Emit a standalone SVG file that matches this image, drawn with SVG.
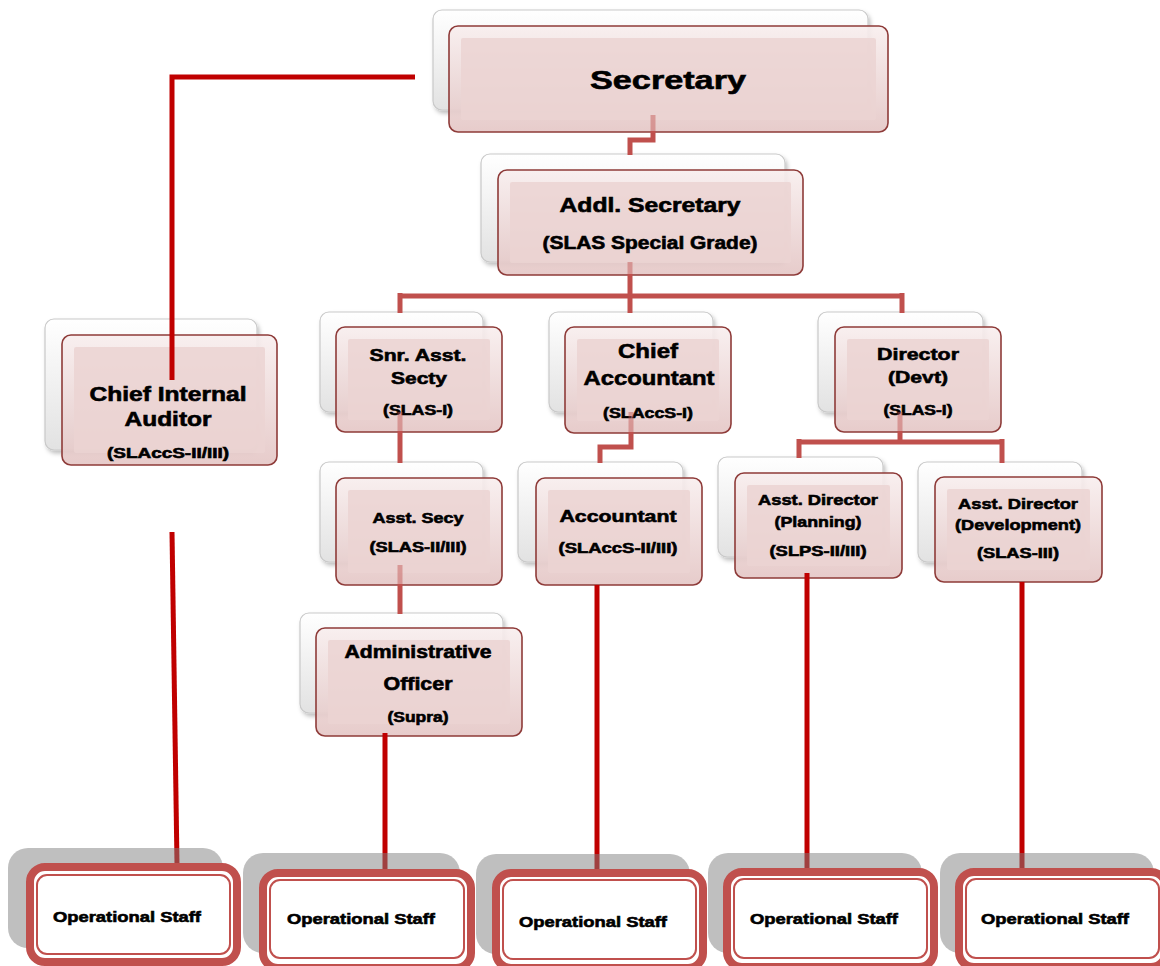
<svg xmlns="http://www.w3.org/2000/svg" width="1160" height="966" viewBox="0 0 1160 966">
<style>
.back{fill:url(#backGrad);stroke:#c9c9c9;stroke-width:1.2;filter:url(#sh)}
.front{fill:url(#frontGrad);fill-opacity:0.9;stroke:#8e3b39;stroke-width:1.6}
.frontIn{fill:#ebd3d2;fill-opacity:0.85;stroke:none}
.t{font-family:"Liberation Sans",Arial,sans-serif;font-weight:bold;fill:#000;text-anchor:middle;stroke:#000;stroke-width:0.6}
.mute{fill:none;stroke:#c0504d;stroke-width:5}
.faint{fill:none;stroke:#c0504d;stroke-width:5;stroke-opacity:0.45}
.red{fill:none;stroke:#c00000;stroke-width:5}
.opsh{fill:#808080;fill-opacity:0.5}
.opOut{fill:#fff;stroke:#c0504d;stroke-width:8}
.opIn{fill:none;stroke:#c0504d;stroke-width:2}
</style>
<defs>
<linearGradient id="backGrad" x1="0" y1="0" x2="0" y2="1">
<stop offset="0" stop-color="#ffffff"/>
<stop offset="1" stop-color="#e2e2e2"/>
</linearGradient>
<linearGradient id="frontGrad" x1="0" y1="0" x2="0" y2="1">
<stop offset="0" stop-color="#f8eeee"/>
<stop offset="1" stop-color="#e4c6c5"/>
</linearGradient>
<filter id="sh" x="-10%" y="-10%" width="125%" height="130%">
<feDropShadow dx="2" dy="3" stdDeviation="2" flood-color="#000" flood-opacity="0.25"/>
</filter>
</defs>

<g id="node-secretary">
<rect class="back" x="433" y="10" width="435" height="100" rx="9"/>
<rect class="front" x="449" y="26" width="439" height="106" rx="9"/>
<rect class="frontIn" x="461" y="38" width="415" height="82" rx="2"/>
<text class="t" x="668" y="89" font-size="26" textLength="156" lengthAdjust="spacingAndGlyphs">Secretary</text>
</g>

<g id="node-addl">
<rect class="back" x="481" y="154" width="304" height="108" rx="9"/>
<rect class="front" x="498" y="170" width="305" height="105" rx="9"/>
<rect class="frontIn" x="510" y="182" width="281" height="81" rx="2"/>
<text class="t" x="650" y="212" font-size="20" textLength="181" lengthAdjust="spacingAndGlyphs">Addl. Secretary</text>
<text class="t" x="650" y="249" font-size="18" textLength="215" lengthAdjust="spacingAndGlyphs">(SLAS Special Grade)</text>
</g>

<g id="node-cia">
<rect class="back" x="45" y="319" width="212" height="131" rx="9"/>
<rect class="front" x="62" y="335" width="215" height="130" rx="9"/>
<rect class="frontIn" x="74" y="347" width="191" height="106" rx="2"/>
<text class="t" x="168" y="401" font-size="20" textLength="157" lengthAdjust="spacingAndGlyphs">Chief Internal</text>
<text class="t" x="168" y="426" font-size="20" textLength="87" lengthAdjust="spacingAndGlyphs">Auditor</text>
<text class="t" x="168" y="458" font-size="14" textLength="122" lengthAdjust="spacingAndGlyphs">(SLAccS-II/III)</text>
</g>

<g id="node-snr">
<rect class="back" x="320" y="312" width="163" height="100" rx="9"/>
<rect class="front" x="336" y="327" width="166" height="105" rx="9"/>
<rect class="frontIn" x="348" y="339" width="142" height="81" rx="2"/>
<text class="t" x="418" y="361" font-size="17" textLength="97" lengthAdjust="spacingAndGlyphs">Snr. Asst.</text>
<text class="t" x="419" y="384" font-size="17" textLength="56" lengthAdjust="spacingAndGlyphs">Secty</text>
<text class="t" x="418" y="415" font-size="14" textLength="70" lengthAdjust="spacingAndGlyphs">(SLAS-I)</text>
</g>

<g id="node-chiefacc">
<rect class="back" x="549" y="312" width="164" height="100" rx="9"/>
<rect class="front" x="565" y="327" width="166" height="106" rx="9"/>
<rect class="frontIn" x="577" y="339" width="142" height="82" rx="2"/>
<text class="t" x="648" y="358" font-size="21" textLength="60" lengthAdjust="spacingAndGlyphs">Chief</text>
<text class="t" x="649" y="385" font-size="21" textLength="131" lengthAdjust="spacingAndGlyphs">Accountant</text>
<text class="t" x="648" y="418" font-size="14" textLength="90" lengthAdjust="spacingAndGlyphs">(SLAccS-I)</text>
</g>

<g id="node-director">
<rect class="back" x="818" y="312" width="165" height="100" rx="9"/>
<rect class="front" x="835" y="327" width="166" height="105" rx="9"/>
<rect class="frontIn" x="847" y="339" width="142" height="81" rx="2"/>
<text class="t" x="918" y="360" font-size="17" textLength="82" lengthAdjust="spacingAndGlyphs">Director</text>
<text class="t" x="918" y="383" font-size="17" textLength="60" lengthAdjust="spacingAndGlyphs">(Devt)</text>
<text class="t" x="918" y="415" font-size="14" textLength="69" lengthAdjust="spacingAndGlyphs">(SLAS-I)</text>
</g>

<g id="node-asstsecy">
<rect class="back" x="320" y="462" width="163" height="100" rx="9"/>
<rect class="front" x="336" y="478" width="166" height="107" rx="9"/>
<rect class="frontIn" x="348" y="490" width="142" height="83" rx="2"/>
<text class="t" x="418" y="523" font-size="15" textLength="91" lengthAdjust="spacingAndGlyphs">Asst. Secy</text>
<text class="t" x="418" y="552" font-size="14" textLength="97" lengthAdjust="spacingAndGlyphs">(SLAS-II/III)</text>
</g>

<g id="node-accountant">
<rect class="back" x="518" y="462" width="165" height="100" rx="9"/>
<rect class="front" x="536" y="478" width="166" height="107" rx="9"/>
<rect class="frontIn" x="548" y="490" width="142" height="83" rx="2"/>
<text class="t" x="618" y="522" font-size="17" textLength="117" lengthAdjust="spacingAndGlyphs">Accountant</text>
<text class="t" x="618" y="553" font-size="14" textLength="119" lengthAdjust="spacingAndGlyphs">(SLAccS-II/III)</text>
</g>

<g id="node-admin">
<rect class="back" x="300" y="613" width="203" height="100" rx="9"/>
<rect class="front" x="316" y="628" width="206" height="108" rx="9"/>
<rect class="frontIn" x="328" y="640" width="182" height="84" rx="2"/>
<text class="t" x="418" y="658" font-size="18" textLength="147" lengthAdjust="spacingAndGlyphs">Administrative</text>
<text class="t" x="418" y="690" font-size="18" textLength="69" lengthAdjust="spacingAndGlyphs">Officer</text>
<text class="t" x="418" y="722" font-size="14" textLength="61" lengthAdjust="spacingAndGlyphs">(Supra)</text>
</g>

<g id="node-adplanning">
<rect class="back" x="718" y="457" width="165" height="100" rx="9"/>
<rect class="front" x="735" y="473" width="167" height="105" rx="9"/>
<rect class="frontIn" x="747" y="485" width="143" height="81" rx="2"/>
<text class="t" x="818" y="505" font-size="15" textLength="120" lengthAdjust="spacingAndGlyphs">Asst. Director</text>
<text class="t" x="818" y="527" font-size="15" textLength="87" lengthAdjust="spacingAndGlyphs">(Planning)</text>
<text class="t" x="818" y="556" font-size="14" textLength="97" lengthAdjust="spacingAndGlyphs">(SLPS-II/III)</text>
</g>

<g id="node-addevelopment">
<rect class="back" x="918" y="462" width="164" height="100" rx="9"/>
<rect class="front" x="935" y="477" width="167" height="105" rx="9"/>
<rect class="frontIn" x="947" y="489" width="143" height="81" rx="2"/>
<text class="t" x="1018" y="509" font-size="15" textLength="120" lengthAdjust="spacingAndGlyphs">Asst. Director</text>
<text class="t" x="1018" y="530" font-size="15" textLength="126" lengthAdjust="spacingAndGlyphs">(Development)</text>
<text class="t" x="1018" y="558" font-size="14" textLength="82" lengthAdjust="spacingAndGlyphs">(SLAS-III)</text>
</g>

<g id="connectors">
<path class="faint" d="M653 115V131"/>
<path class="mute" d="M653 131V140H630V155"/>
<path class="faint" d="M630 262V274"/>
<path class="mute" d="M630 274V296M400 296H902M400 293V313M630 296V313M902 293V313"/>
<path class="faint" d="M400 412V431"/>
<path class="mute" d="M400 431V463"/>
<path class="faint" d="M400 565V584"/>
<path class="mute" d="M400 584V614"/>
<path class="faint" d="M631 412V432"/>
<path class="mute" d="M631 432V447H600V463"/>
<path class="faint" d="M900 412V431"/>
<path class="mute" d="M900 431V442M799 442H1002M799 439V458M1002 439V463"/>
<path class="red" d="M415 77H172V380"/>
<path class="red" d="M172 532L177 864"/>
<path class="red" d="M385 733V870"/>
<path class="red" d="M597 585V870"/>
<path class="red" d="M807 573V869"/>
<path class="red" d="M1022 582V869"/>
</g>

<g id="node-ops1">
<rect class="opsh" x="8" y="848" width="215" height="100" rx="20"/>
<rect class="opOut" x="30" y="867" width="207" height="95" rx="15"/>
<rect class="opIn" x="37" y="875" width="193" height="79" rx="10"/>
<text class="t" x="127" y="922" font-size="15" textLength="148" lengthAdjust="spacingAndGlyphs">Operational Staff</text>
</g>
<g id="node-ops2">
<rect class="opsh" x="243" y="853" width="217" height="100" rx="20"/>
<rect class="opOut" x="263" y="873" width="208" height="95" rx="15"/>
<rect class="opIn" x="270" y="880" width="194" height="78" rx="10"/>
<text class="t" x="361" y="924" font-size="15" textLength="148" lengthAdjust="spacingAndGlyphs">Operational Staff</text>
</g>
<g id="node-ops3">
<rect class="opsh" x="476" y="854" width="214" height="100" rx="20"/>
<rect class="opOut" x="496" y="873" width="207" height="95" rx="15"/>
<rect class="opIn" x="503" y="880" width="193" height="79" rx="10"/>
<text class="t" x="593" y="927" font-size="15" textLength="148" lengthAdjust="spacingAndGlyphs">Operational Staff</text>
</g>
<g id="node-ops4">
<rect class="opsh" x="708" y="853" width="214" height="100" rx="20"/>
<rect class="opOut" x="727" y="872" width="207" height="95" rx="15"/>
<rect class="opIn" x="734" y="879" width="193" height="79" rx="10"/>
<text class="t" x="824" y="924" font-size="15" textLength="148" lengthAdjust="spacingAndGlyphs">Operational Staff</text>
</g>
<g id="node-ops5">
<rect class="opsh" x="940" y="853" width="214" height="100" rx="20"/>
<rect class="opOut" x="959" y="872" width="207" height="95" rx="15"/>
<rect class="opIn" x="966" y="879" width="193" height="79" rx="10"/>
<text class="t" x="1055" y="924" font-size="15" textLength="148" lengthAdjust="spacingAndGlyphs">Operational Staff</text>
</g>
</svg>
